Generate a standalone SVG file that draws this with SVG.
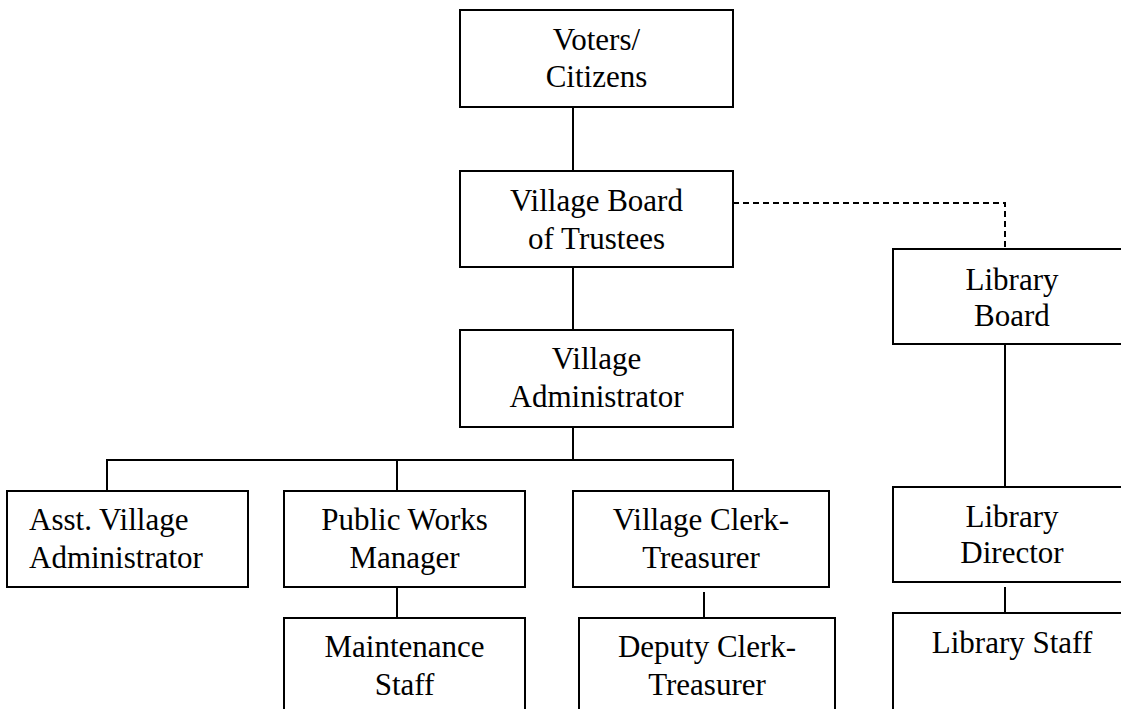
<svg xmlns="http://www.w3.org/2000/svg" width="1121" height="709" viewBox="0 0 1121 709">
<style>
.box{fill:#fff;stroke:#000;stroke-width:2}
.t{font-family:"Liberation Serif","Times New Roman",serif;font-size:31px;fill:#000;text-anchor:middle}
.l{text-anchor:start}
.c{fill:none;stroke:#000;stroke-width:2}
.d{stroke-dasharray:6,4}
</style>
<rect width="1121" height="709" fill="#fff"/>
<g id="connectors">
<path class="c" d="M573 107V171"/>
<path class="c" d="M573 267V330"/>
<path class="c" d="M573 427V460"/>
<path class="c" d="M107 491V460H733V491"/>
<path class="c" d="M397 460V491"/>
<path class="c" d="M397 587V618"/>
<path class="c" d="M704 592V618"/>
<path class="c d" d="M733 203H1005V249"/>
<path class="c" d="M1005 344V487"/>
<path class="c" d="M1005 587V613"/>
</g>
<g id="voters"><rect class="box" x="460" y="10" width="273" height="97"/><text class="t" x="596.5" y="50">Voters/</text><text class="t" x="596.5" y="87">Citizens</text></g>
<g id="board"><rect class="box" x="460" y="171" width="273" height="96"/><text class="t" x="596.5" y="211">Village Board</text><text class="t" x="596.5" y="249">of Trustees</text></g>
<g id="admin"><rect class="box" x="460" y="330" width="273" height="97"/><text class="t" x="596.5" y="369">Village</text><text class="t" x="596.5" y="407">Administrator</text></g>
<g id="asst"><rect class="box" x="7" y="491" width="241" height="96"/><text class="t l" x="29" y="530">Asst. Village</text><text class="t l" x="29" y="568">Administrator</text></g>
<g id="publicworks"><rect class="box" x="284" y="491" width="241" height="96"/><text class="t" x="404.5" y="530">Public Works</text><text class="t" x="404.5" y="568">Manager</text></g>
<g id="clerk"><rect class="box" x="573" y="491" width="256" height="96"/><text class="t" x="701" y="530">Village Clerk-</text><text class="t" x="701" y="568">Treasurer</text></g>
<g id="maintenance"><rect class="box" x="284" y="618" width="241" height="110"/><text class="t" x="404.5" y="657">Maintenance</text><text class="t" x="404.5" y="695">Staff</text></g>
<g id="deputy"><rect class="box" x="579" y="618" width="256" height="110"/><text class="t" x="707" y="657">Deputy Clerk-</text><text class="t" x="707" y="695">Treasurer</text></g>
<g id="libboard"><rect class="box" x="893" y="249" width="240" height="95"/><text class="t" x="1012" y="290">Library</text><text class="t" x="1012" y="326">Board</text></g>
<g id="libdirector"><rect class="box" x="893" y="487" width="240" height="95"/><text class="t" x="1012" y="527">Library</text><text class="t" x="1012" y="563">Director</text></g>
<g id="libstaff"><rect class="box" x="893" y="613" width="240" height="110"/><text class="t" x="1012" y="653">Library Staff</text></g>
</svg>
